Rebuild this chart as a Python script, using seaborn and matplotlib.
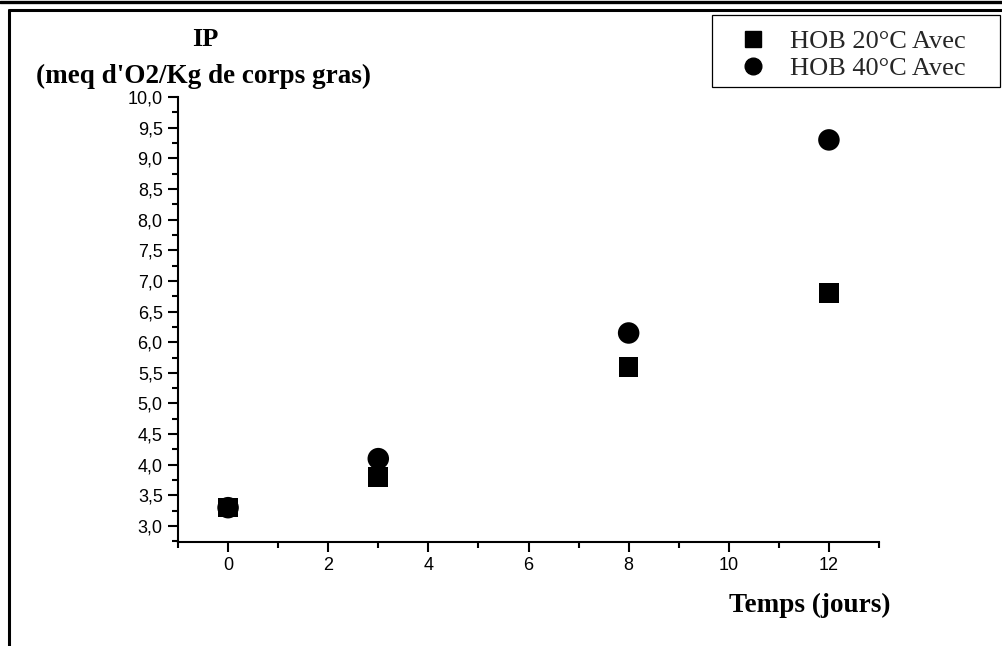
import matplotlib
matplotlib.use("Agg")
import matplotlib.pyplot as plt
import seaborn as sns
import pandas as pd
import numpy as np
from matplotlib.lines import Line2D
from matplotlib.patches import Rectangle
from matplotlib.ticker import MultipleLocator, FuncFormatter

# ---- data ----
jours = [0, 3, 8, 12]
ip_20 = [3.3, 3.8, 5.6, 6.8]
ip_40 = [3.3, 4.1, 6.15, 9.3]
series_names = ["HOB 20°C Avec", "HOB 40°C Avec"]
x_ticks = [0, 2, 4, 6, 8, 10, 12]
x_label = "Temps (jours)"
y_label_1 = "IP"
y_label_2 = "(meq d'O2/Kg de corps gras)"

df = pd.DataFrame({
    "jours": jours + jours,
    "ip": ip_20 + ip_40,
    "serie": [series_names[0]] * len(jours) + [series_names[1]] * len(jours),
})

sns.set_theme(style="ticks")
plt.rcParams["font.family"] = ["Liberation Sans", "DejaVu Sans"]

fig = plt.figure(figsize=(10.02, 6.46), dpi=100)
W, H = 1002, 646
ax = fig.add_axes([178 / W, 1 - 542 / H, (879 - 178) / W, (542 - 97) / H])

# draw 40°C first so the 20°C squares sit on top
sns.scatterplot(data=df[df.serie == series_names[1]], x="jours", y="ip",
                marker="o", color="black", s=240, edgecolor="none",
                ax=ax, legend=False, zorder=3)
sns.scatterplot(data=df[df.serie == series_names[0]], x="jours", y="ip",
                marker="s", color="black", s=200, edgecolor="none",
                ax=ax, legend=False, zorder=4)

ax.set_xlim(-1, 13)
ax.set_ylim(2.74, 10.0)
ax.set_xticks(x_ticks)
ax.xaxis.set_minor_locator(MultipleLocator(1))
ax.set_yticks(np.arange(3.0, 10.01, 0.5))
ax.yaxis.set_minor_locator(MultipleLocator(0.25))
ax.yaxis.set_major_formatter(FuncFormatter(lambda v, p: f"{v:.1f}".replace(".", ",")))
ax.set_xlabel("")
ax.set_ylabel("")
for s in ["top", "right"]:
    ax.spines[s].set_visible(False)
for s in ["left", "bottom"]:
    ax.spines[s].set_linewidth(1.5)
    ax.spines[s].set_color("black")
ax.tick_params(which="major", length=7, width=1.5, color="black", pad=4,
               labelsize=13, labelcolor="black")
ax.tick_params(which="minor", length=4, width=1.5, color="black")
ax.grid(False)

# axis titles
serif_b = dict(family=["Liberation Serif", "DejaVu Serif"], weight="bold", color="black")
fig.text(205 / W, 1 - 40 / H, y_label_1, ha="center", va="center", fontsize=19, **serif_b)
fig.text(204 / W, 1 - 76 / H, y_label_2, ha="center", va="center", fontsize=19.5, **serif_b)
fig.text(810 / W, 1 - 605 / H, x_label, ha="center", va="center", fontsize=19.5, **serif_b)

# legend
handles = [Line2D([], [], marker="s", color="black", linestyle="none", markersize=11),
           Line2D([], [], marker="o", color="black", linestyle="none", markersize=12)]
leg = fig.legend(handles, series_names, loc="upper left",
                 bbox_to_anchor=(739.5 / W, 1 - 30 / H),
                 prop=dict(family=["Liberation Serif", "DejaVu Serif"], size=19),
                 frameon=False, borderpad=0, handletextpad=0.9,
                 labelspacing=0.12, borderaxespad=0, handlelength=1.0)
fig.add_artist(Rectangle((712 / W, 1 - 87 / H), 288 / W, 72 / H, fill=False,
                         edgecolor="black", lw=0.9, transform=fig.transFigure))

# page borders
fig.add_artist(Line2D([0, 1], [1 - 1.5 / H, 1 - 1.5 / H], color="black", lw=2.4,
                      transform=fig.transFigure))
fig.add_artist(Line2D([9 / W, 1], [1 - 10 / H, 1 - 10 / H], color="black", lw=2.2,
                      transform=fig.transFigure))
fig.add_artist(Line2D([9 / W, 9 / W], [1 - 10 / H, 0], color="black", lw=2.2,
                      transform=fig.transFigure))

fig.savefig("out.png", dpi=100, facecolor="white")
